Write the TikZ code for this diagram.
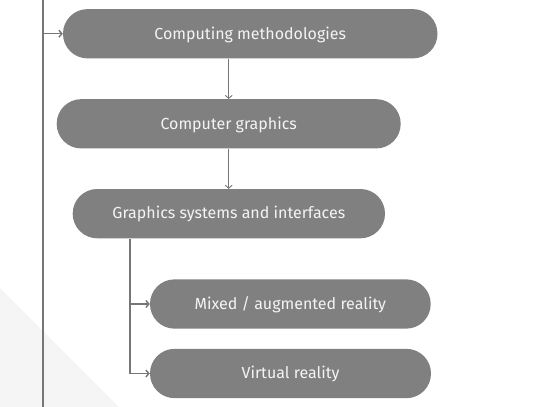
\documentclass[tikz,border=0pt]{standalone}
\usepackage{fontspec}
\setmainfont{Fira Sans}
\usetikzlibrary{arrows.meta}
\definecolor{boxgray}{HTML}{808080}
\definecolor{linegray}{HTML}{767676}
\definecolor{txtwhite}{HTML}{F4F4F4}
\definecolor{bggray}{HTML}{F5F5F5}
\tikzset{pill/.style={fill=boxgray,text=txtwhite,rounded corners=24.5pt,minimum height=49.3pt,inner sep=0pt,text height=11.5pt,text depth=1pt,font=\fontsize{16}{18}\selectfont},
arr/.style={draw=linegray,line width=0.9pt,-{Straight Barb[length=3pt,width=7pt]}}}
\begin{document}
\begin{tikzpicture}[x=1pt,y=-1pt]
\useasboundingbox (0,0) rectangle (533,407);
\fill[bggray] (0,288)--(119,407)--(0,407)--cycle;
\node[pill,minimum width=374.5pt](meth) at (250.25,33.75){Computing methodologies};
\node[pill,minimum width=344pt](cg) at (228.7,123.8){Computer graphics};
\node[pill,minimum width=312.3pt](gsi) at (228.85,213.65){Graphics systems and interfaces};
\node[pill,minimum width=280.7pt](mar) at (290.35,304){Mixed / augmented reality};
\node[pill,minimum width=281pt](vr) at (290.5,373.5){Virtual reality};
\coordinate (trunk) at (43,0); \coordinate (trunkend) at (43,407); \coordinate (fork) at (130,0);
\draw[draw=linegray,line width=1.6pt] (trunk)--(trunkend);
\draw[arr,line width=1.4pt] (trunk|-meth.west)--(meth.west);
\draw[arr] (meth.south-|cg.north)--(cg.north);
\draw[arr] (cg.south)--(gsi.north-|cg.south);
\draw[arr,line width=1.4pt] (gsi.south-|fork)|-(mar.west);
\draw[arr,line width=1.4pt] (gsi.south-|fork)|-(vr.west);
\end{tikzpicture}
\end{document}
